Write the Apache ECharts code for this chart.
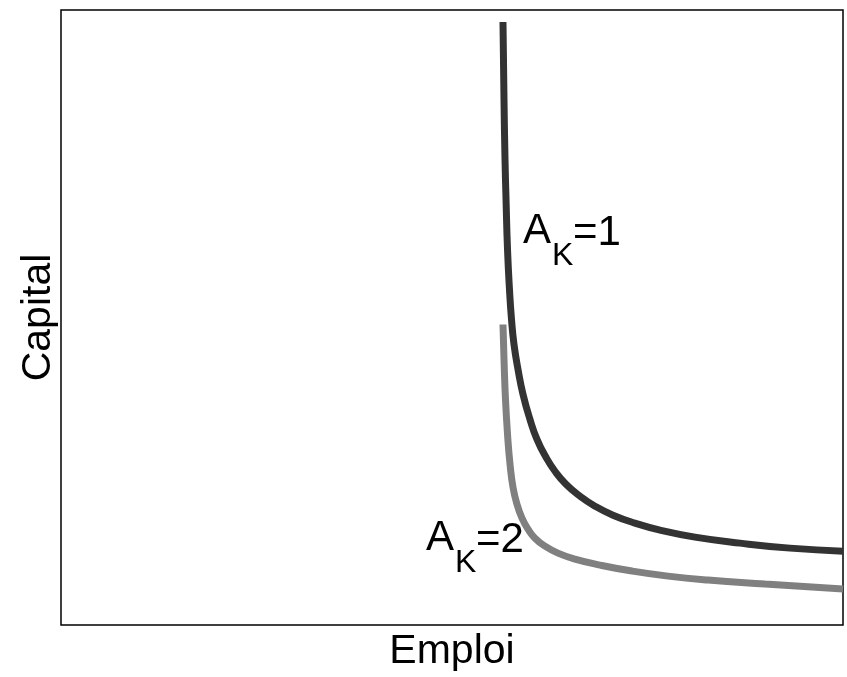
<!DOCTYPE html>
<html>
<head>
<meta charset="utf-8">
<script src="https://cdn.jsdelivr.net/npm/echarts@6/dist/echarts.min.js"></script>
<style>
  html, body { margin: 0; padding: 0; background: #fff; }
  #main { width: 847px; height: 677px; }
</style>
</head>
<body>
<div id="main"></div>
<script>
// isoquante A_K=1 (foncée)
const emploiAk1 = [56.52, 56.65, 56.78, 56.91, 57.10, 57.35, 57.61, 57.93, 58.44, 59.08, 59.97, 60.87, 62.02, 63.17, 64.58, 66.37, 68.29, 70.59, 73.40, 76.60, 81.07, 86.83, 93.22, 100];
const capitalAk1 = [98.05, 85.39, 75.65, 69.16, 61.04, 54.55, 49.68, 45.62, 41.56, 37.50, 33.44, 30.19, 27.27, 25.00, 22.89, 20.94, 19.32, 17.86, 16.56, 15.42, 14.29, 13.31, 12.50, 12.01];

// isoquante A_K=2 (grise)
const emploiAk2 = [56.52, 56.65, 56.84, 57.10, 57.42, 57.80, 58.31, 58.95, 59.72, 60.61, 61.89, 63.55, 65.73, 68.93, 73.02, 77.62, 82.74, 90.03, 100];
const capitalAk2 = [48.86, 43.18, 36.69, 31.01, 26.14, 22.40, 19.64, 17.37, 15.58, 14.12, 12.82, 11.69, 10.71, 9.74, 8.77, 7.95, 7.31, 6.66, 5.84];

const font = '"Liberation Sans", Arial, Helvetica, sans-serif';

const toPairs = (xs, ys) => xs.map((x, i) => [x, ys[i]]);

// étiquette A_K=n, en trois morceaux pour l'indice
const label = (x, y, n) => [
    { type: 'text', x: x, y: y, style: { text: 'A', fontSize: 42, fontFamily: font, fill: '#000', align: 'left', verticalAlign: 'middle' } },
    { type: 'text', x: x + 29, y: y + 25, style: { text: 'K', fontSize: 32, fontFamily: font, fill: '#000', align: 'left', verticalAlign: 'middle' } },
    { type: 'text', x: x + 50, y: y + 2, style: { text: '=' + n, fontSize: 42, fontFamily: font, fill: '#000', align: 'left', verticalAlign: 'middle' } }
];

const chart = echarts.init(document.getElementById('main'));

const option = {
    animation: false,
    backgroundColor: '#fff',
    grid: {
        left: 61, right: 4, top: 10, bottom: 51,
        show: true,
        borderColor: '#000',
        borderWidth: 1.5
    },
    xAxis: {
        type: 'value',
        min: 0, max: 100,
        name: 'Emploi',
        nameLocation: 'middle',
        nameGap: 6,
        nameTextStyle: { fontSize: 41, fontFamily: font, color: '#000' },
        axisLine: { show: false },
        axisTick: { show: false },
        axisLabel: { show: false },
        splitLine: { show: false }
    },
    yAxis: {
        type: 'value',
        min: 0, max: 100,
        name: 'Capital',
        nameLocation: 'middle',
        nameGap: 2,
        nameTextStyle: { fontSize: 41, fontFamily: font, color: '#000' },
        axisLine: { show: false },
        axisTick: { show: false },
        axisLabel: { show: false },
        splitLine: { show: false }
    },
    series: [
        {
            name: 'A_K=1',
            type: 'line',
            data: toPairs(emploiAk1, capitalAk1),
            smooth: 0.5,
            showSymbol: false,
            lineStyle: { color: '#333333', width: 7, cap: 'butt' }
        },
        {
            name: 'A_K=2',
            type: 'line',
            data: toPairs(emploiAk2, capitalAk2),
            smooth: 0.5,
            showSymbol: false,
            lineStyle: { color: '#808080', width: 7, cap: 'butt' }
        }
    ],
    graphic: [].concat(label(523, 231, 1), label(426, 538, 2))
};

chart.setOption(option);
</script>
</body>
</html>
